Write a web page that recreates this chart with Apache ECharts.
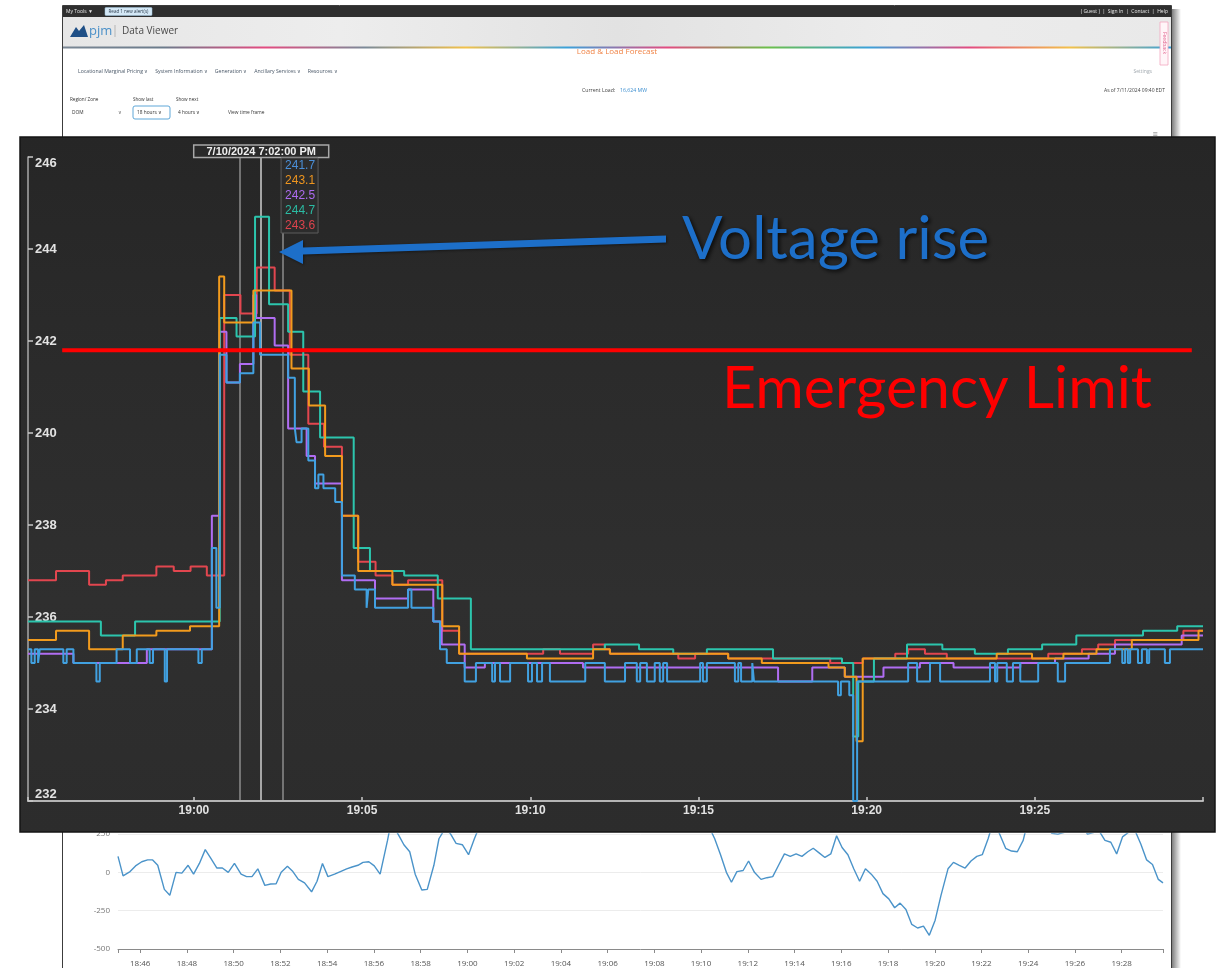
<!DOCTYPE html>
<html>
<head>
<meta charset="utf-8">
<title>Voltage rise – Emergency Limit</title>
<script src="https://cdn.jsdelivr.net/npm/echarts@6/dist/echarts.min.js"></script>
<style>
html,body{margin:0;padding:0;background:#ffffff;}
#chart{width:1225px;height:968px;}
</style>
</head>
<body>
<div id="chart"></div>
<script>
// ================= DATA =================
// Voltage step series (time of change, value held until next change)
const blueT = ['18:55:04','18:55:10','18:55:16','18:55:22','18:55:25','18:56:07','18:56:13','18:56:25','18:57:06','18:57:12',
'18:57:42','18:58:06','18:58:18','18:58:41','18:58:47','18:59:08','18:59:12','19:00:08','19:00:14','19:00:32',
'19:00:40','19:00:46','19:00:58','19:01:22','19:01:46','19:01:58','19:02:48','19:03:00','19:03:03','19:03:12',
'19:03:24','19:03:36','19:03:42','19:03:51','19:04:12','19:04:24','19:04:47','19:05:08','19:05:11','19:05:23',
'19:06:22','19:06:28','19:07:07','19:07:19','19:07:31','19:08:03','19:08:23','19:08:52','19:08:57','19:09:06',
'19:09:24','19:09:56','19:10:03','19:10:12','19:10:21','19:10:35','19:11:38','19:12:13','19:12:49','19:13:10',
'19:13:16','19:13:28','19:13:42','19:13:51','19:13:57','19:14:04','19:15:03','19:15:08','19:15:15','19:16:05',
'19:16:11','19:16:16','19:16:36','19:16:39','19:19:09','19:19:14','19:19:29','19:19:36','19:19:43','19:21:14',
'19:21:30','19:21:53','19:22:11','19:23:40','19:23:49','19:23:53','19:24:10','19:24:21','19:24:34','19:25:06',
'19:25:41','19:25:54','19:27:14','19:27:36','19:27:41','19:27:46','19:27:50','19:28:04','19:28:11','19:28:20',
'19:28:24','19:28:52','19:29:01','19:30:00'];
const blueV = [235.3,235.0,235.3,235.0,235.3,235.0,235.3,235.0,234.6,235.0,
235.3,235.0,235.3,235.0,235.3,234.6,235.3,235.0,235.3,237.5,
236.2,241.7,241.1,241.3,242.4,241.7,241.2,240.1,239.8,240.1,
239.4,238.8,239.1,238.8,238.5,236.9,236.6,236.2,236.6,236.2,
236.6,236.2,235.9,235.3,235.0,234.6,235.0,234.6,235.0,234.6,
235.0,234.6,235.0,234.6,235.0,234.6,235.0,234.6,235.0,234.6,
235.0,234.6,235.0,234.6,235.0,234.6,235.0,234.6,235.0,234.6,
235.0,234.6,235.0,234.6,234.3,234.6,234.3,232.0,234.6,235.0,
234.6,235.0,234.6,235.0,234.6,235.0,234.6,235.0,234.6,235.0,
234.6,235.0,235.3,235.0,235.3,235.0,235.3,235.0,235.3,235.0,
235.3,235.0,235.3,235.3];

const orangeT = ['18:55:04','18:55:54','18:56:53','18:57:53','18:58:53','18:59:53','19:00:45','19:00:54','19:01:46','19:02:54',
'19:03:25','19:03:54','19:04:24','19:04:53','19:05:54','19:07:23','19:07:53','19:09:54','19:11:52','19:12:22',
'19:15:53','19:16:53','19:18:52','19:19:21','19:19:42','19:19:53','19:23:52','19:24:55','19:25:51','19:26:50',
'19:27:53','19:29:52','19:30:00'];
const orangeV = [235.5,235.7,235.3,235.6,235.7,235.8,243.4,242.4,243.1,241.4,
240.6,239.5,238.2,237.0,236.7,235.8,235.2,235.1,235.3,235.2,
235.1,235.0,234.9,234.7,233.3,235.1,235.2,235.1,235.2,235.3,
235.5,235.7,235.7];

const purpleT = ['18:55:04','18:56:25','18:58:36','19:00:32','19:00:46','19:00:58','19:01:22','19:01:46','19:01:51','19:02:24',
'19:02:48','19:03:21','19:03:36','19:04:24','19:05:23','19:06:22','19:07:07','19:07:22','19:08:03','19:08:39',
'19:11:34','19:17:22','19:18:23','19:19:21','19:20:30','19:21:35','19:22:35','19:24:34','19:25:36','19:26:36',
'19:27:23','19:29:22','19:30:00'];
const purpleV = [235.2,235.0,235.3,238.2,242.2,241.1,241.5,243.0,242.5,241.9,
240.1,239.5,238.9,236.8,236.4,236.6,235.9,235.4,234.9,235.0,
234.9,234.6,234.9,234.7,234.9,235.0,234.9,235.0,235.1,235.2,
235.4,235.6,235.6];

const tealT = ['18:55:04','18:57:14','18:58:15','19:00:46','19:01:16','19:01:49','19:02:14','19:02:48','19:03:15','19:03:45',
'19:04:45','19:05:14','19:06:15','19:07:15','19:08:14','19:12:13','19:13:14','19:14:15','19:15:15','19:17:13',
'19:19:16','19:19:36','19:19:45','19:20:13','19:21:12','19:22:15','19:23:13','19:24:12','19:25:13','19:26:14',
'19:28:13','19:29:14','19:30:00'];
const tealV = [235.9,235.6,235.9,242.5,242.1,244.7,242.8,242.2,240.9,239.9,
237.5,237.0,236.9,236.4,235.3,235.4,235.3,235.2,235.3,235.1,
235.0,233.4,234.6,235.1,235.4,235.3,235.2,235.3,235.4,235.6,
235.7,235.8,235.8];

const redT = ['18:55:04','18:55:54','18:56:53','18:57:23','18:57:53','18:58:53','18:59:24','18:59:54','19:00:23','19:00:54',
'19:01:23','19:01:52','19:02:24','19:02:51','19:03:24','19:03:52','19:04:24','19:04:53','19:05:24','19:05:54',
'19:06:22','19:07:23','19:07:53','19:10:23','19:10:53','19:11:52','19:12:13','19:12:22','19:14:24','19:14:54',
'19:15:53','19:18:55','19:19:53','19:20:51','19:21:14','19:21:44','19:22:23','19:25:24','19:26:24','19:26:53',
'19:27:23','19:29:25','19:30:00'];
const redV = [236.8,237.0,236.7,236.8,236.9,237.1,237.0,237.1,236.9,243.0,
242.6,243.6,243.1,241.7,240.2,239.7,238.2,237.2,236.9,236.7,
236.8,235.7,235.2,235.3,235.2,235.4,235.3,235.2,235.1,235.2,
235.1,235.0,235.1,235.2,235.3,235.2,235.1,235.2,235.3,235.4,
235.5,235.7,235.7];

// cursor / tooltip
const cursorTimes = ['19:01:22','19:02:00','19:02:39'];
const cursorLabel = '7/10/2024 7:02:00 PM';
// emergency limit annotation line
const limitValue = 241.8;
const limitSpan = ['18:56:05','19:29:40'];

// axis ranges / tick labels
const topXRange = ['18:55:04','19:30:00'];
const topXTicks = ['19:00','19:05','19:10','19:15','19:20','19:25'];
const topYTicks = [232,234,236,238,240,242,244,246];

// background page chart (light)
const bottomT = ['18:45:03','18:45:16','18:45:34','18:45:48','18:46:04','18:46:19','18:46:32','18:46:45','18:47:02','18:47:16',
'18:47:32','18:47:47','18:48:03','18:48:17','18:48:32','18:48:47','18:49:01','18:49:17','18:49:31','18:49:46',
'18:50:02','18:50:19','18:50:33','18:50:47','18:51:02','18:51:20','18:51:35','18:51:49','18:52:02','18:52:18',
'18:52:32','18:52:46','18:53:02','18:53:20','18:53:34','18:53:48','18:54:02','18:54:19','18:54:34','18:54:50',
'18:55:04','18:55:19','18:55:32','18:55:47','18:56:01','18:56:16','18:56:35','18:56:42','18:56:53','18:57:06',
'18:57:17','18:57:32','18:57:46','18:58:03','18:58:17','18:58:34','18:58:47','18:59:02','18:59:16','18:59:31',
'18:59:47','19:00:03','19:00:18','19:00:31','19:01:30','19:03:00','19:05:00','19:07:00','19:08:30','19:09:16',
'19:09:31','19:09:51','19:10:20','19:10:35','19:10:50','19:11:05','19:11:18','19:11:32','19:11:48','19:12:02',
'19:12:17','19:12:34','19:12:49','19:13:04','19:13:19','19:13:34','19:13:49','19:14:04','19:14:19','19:14:34',
'19:14:48','19:15:03','19:15:18','19:15:33','19:15:48','19:16:02','19:16:17','19:16:32','19:16:47','19:17:02',
'19:17:17','19:17:32','19:17:47','19:18:02','19:18:17','19:18:31','19:18:46','19:19:01','19:19:16','19:19:31',
'19:19:46','19:20:01','19:20:16','19:20:34','19:20:48','19:21:03','19:21:18','19:21:33','19:21:48','19:22:02',
'19:22:17','19:22:28','19:22:42','19:23:02','19:23:17','19:23:32','19:23:47','19:23:57','19:24:19','19:24:43',
'19:25:01','19:25:16','19:25:31','19:25:46','19:26:01','19:26:16','19:26:32','19:26:47','19:27:02','19:27:17',
'19:27:32','19:27:47','19:28:02','19:28:20','19:28:34','19:28:49','19:29:04','19:29:19','19:29:34','19:29:46'];
const bottomV = [104,-23,5,42,69,81,81,46,-111,-150,
0,-5,46,-12,58,148,92,28,28,0,
58,-12,-28,-28,23,-85,-76,-74,0,39,
5,-46,-69,-127,-58,58,-28,-12,5,23,
35,46,65,69,42,-12,208,300,289,231,
180,134,-12,-115,-111,46,219,282,254,189,
180,115,219,300,420,520,480,400,330,277,
305,296,300,219,115,0,-65,5,12,74,
0,-46,-35,-28,46,120,104,120,104,134,
157,127,97,120,238,162,115,23,-58,23,
-12,-58,-139,-173,-231,-201,-243,-340,-363,-351,
-411,-312,-150,23,65,46,28,74,104,115,
219,312,277,157,139,134,208,312,340,300,
254,249,259,273,270,312,249,259,270,208,
196,120,231,266,273,185,81,51,-46,-69];
const bottomXRange = ['18:45:03','19:29:46'];
const bottomXTicks = ['18:46','18:48','18:50','18:52','18:54','18:56','18:58','19:00','19:02','19:04','19:06',
'19:08','19:10','19:12','19:14','19:16','19:18','19:20','19:22','19:24','19:26','19:28'];

// ================= HELPERS =================
function toMin(s){const p=s.split(':').map(Number);return (p[0]-18)*60+p[1]+(p[2]||0)/60;}
function pairs(T,V){return T.map((t,i)=>[toMin(t),V[i]]);}
function valueAt(T,V,t){let v=V[0];for(let i=0;i<T.length;i++){if(toMin(T[i])<=t+1e-9)v=V[i];}return v;}
function tickLabel(list,v){for(const l of list){if(Math.abs(toMin(l)-v)<1e-6)return l;}return '';}

const FONT = 'Arial, "Liberation Sans", sans-serif';
const colors = {blue:'#41a1e1', orange:'#f29b1d', purple:'#b06df2', teal:'#2cc5ad', red:'#e2464f'};
const tipColors = [ '#4a8fd8', '#ee951f', '#ad6cf0', '#2bbba3', '#dc434c'];

const chart = echarts.init(document.getElementById('chart'), null, {renderer:'canvas', width:1225, height:968});

function stepLine(name,T,V,color){
  return {name, type:'line', xAxisIndex:0, yAxisIndex:0, step:'end', data:pairs(T,V), symbol:'none',
    z:6, silent:true, lineStyle:{color, width:2}, itemStyle:{color}, emphasis:{disabled:true}};
}

const option = {
  animation:false,
  backgroundColor:'#ffffff',
  grid:[
    {left:28, right:22, top:157, bottom:167, show:false},
    {left:118, right:62, top:834, bottom:18, show:false}
  ],
  xAxis:[
    {gridIndex:0, type:'value', z:5, min:toMin(topXRange[0]), max:toMin(topXRange[1]), minInterval:5, maxInterval:5,
      axisLine:{show:true, onZero:false, lineStyle:{color:'#b4b4b4', width:2}},
      axisTick:{show:true, inside:true, length:4, lineStyle:{color:'#c8c8c8', width:1.5}},
      axisLabel:{color:'#e2e2e2', fontFamily:FONT, fontWeight:'bold', fontSize:12, margin:4,
        formatter:v=>tickLabel(topXTicks,v)},
      splitLine:{show:false}},
    {gridIndex:1, type:'value', z:0, min:toMin(bottomXRange[0]), max:toMin(bottomXRange[1]), minInterval:2, maxInterval:2,
      axisLine:{show:true, onZero:false, lineStyle:{color:'#8a8a8a', width:1}},
      axisTick:{show:true, length:4, lineStyle:{color:'#8a8a8a'}},
      axisLabel:{color:'#555', fontFamily:'"Open Sans", sans-serif', fontSize:8, margin:11,
        formatter:v=>tickLabel(bottomXTicks,v)},
      splitLine:{show:false}}
  ],
  yAxis:[
    {gridIndex:0, type:'value', z:5, min:topYTicks[0], max:topYTicks[topYTicks.length-1], interval:2,
      axisLine:{show:true, lineStyle:{color:'#a8a8a8', width:1.5}},
      axisTick:{show:true, inside:true, length:5, lineStyle:{color:'#c8c8c8', width:1.5}},
      axisLabel:{inside:true, margin:7, color:'#e2e2e2', fontFamily:FONT, fontWeight:'bold', fontSize:13,
        verticalAlignMaxLabel:'top', verticalAlignMinLabel:'bottom'},
      splitLine:{show:false}},
    {gridIndex:1, type:'value', z:0, min:-500, max:250, interval:250,
      axisLine:{show:false}, axisTick:{show:false},
      axisLabel:{color:'#777', fontFamily:'"Open Sans", sans-serif', fontSize:8, margin:8},
      splitLine:{show:true, lineStyle:{color:'#ececec', width:1}}}
  ],
  series:[
    {name:'Bottom', type:'line', xAxisIndex:1, yAxisIndex:1, data:pairs(bottomT,bottomV), symbol:'none', z:1,
      silent:true, clip:true, lineStyle:{color:'#4a93c9', width:1.4}, itemStyle:{color:'#4a93c9'}},
    Object.assign(stepLine('Red',redT,redV,colors.red), {
      markLine:{silent:true, symbol:['none','none'], z:5, animation:false, label:{show:false},
        data:cursorTimes.map((t,i)=>({xAxis:toMin(t),
          lineStyle:{color:i===1?'#cfcfcf':'#8c8c8c', width:1.5, type:'solid'}}))}
    }),
    stepLine('Purple',purpleT,purpleV,colors.purple),
    stepLine('Teal',tealT,tealV,colors.teal),
    stepLine('Orange',orangeT,orangeV,colors.orange),
    stepLine('Blue',blueT,blueV,colors.blue),
    {name:'Emergency Limit', type:'line', xAxisIndex:0, yAxisIndex:0, silent:true, symbol:'none', z:10, clip:false,
      data:limitSpan.map(t=>[toMin(t),limitValue]), lineStyle:{color:'#ff0000', width:4}}
  ]
};
chart.setOption(option);

// ================= GRAPHICS (page backdrop, panel, tooltip, annotations) =================
const cx = chart.convertToPixel({xAxisIndex:0}, toMin(cursorTimes[1]));
const cxR = chart.convertToPixel({xAxisIndex:0}, toMin(cursorTimes[2]));
const tipValues = [[blueT,blueV],[orangeT,orangeV],[purpleT,purpleV],[tealT,tealV],[redT,redV]]
  .map(([T,V])=>valueAt(T,V,toMin(cursorTimes[1])).toFixed(1));

function LG(x1,y1,x2,y2,stops){
  return new echarts.graphic.LinearGradient(x1,y1,x2,y2,stops.map((c,i)=>({offset:i/(stops.length-1),color:c})));
}
function txt(x,y,text,o){
  o=o||{};
  const al=o.align||'left', va=o.va||'middle';
  return Object.assign({type:'text', z:(o.z!==undefined?o.z:-5), silent:true,
    style:Object.assign({x, y, text, font:o.font||'6px "Open Sans"', fill:o.fill||'#444',
      textAlign:al, align:al, textVerticalAlign:va, verticalAlign:va}, o.style||{})}, o.el||{});
}

const g = [];
// page shadow + page
g.push({type:'rect', z:-10, silent:true, shape:{x:1172,y:9,width:9,height:960}, style:{fill:LG(0,0,1,0,['rgba(0,0,0,0.5)','rgba(0,0,0,0)'])}});
g.push({type:'rect', z:-9, silent:true, shape:{x:62.5,y:5.5,width:1109,height:975}, style:{fill:'#ffffff', stroke:'#3c3c3c', lineWidth:1}});
// top dark bar
g.push({type:'rect', z:-8, silent:true, shape:{x:63,y:6,width:1108,height:11}, style:{fill:'#2f2f2f'}});
g.push(txt(66,11.5,'My Tools ▼',{font:'5px "Open Sans"', fill:'#e8e8e8'}));
g.push({type:'rect', z:-7, silent:true, shape:{x:105,y:7.5,width:47,height:8, r:1}, style:{fill:'#d4e8f6', stroke:'#9fc4de', lineWidth:0.5}});
g.push(txt(128.5,11.5,'Read 1 new alert(s)',{font:'4.5px "Open Sans"', fill:'#2b3b4b', align:'center', z:-6}));
g.push(txt(1168,11.5,'( Guest )  |  Sign In  |  Contact  |  Help',{font:'5px "Open Sans"', fill:'#e8e8e8', align:'right'}));
// header
g.push({type:'rect', z:-8, silent:true, shape:{x:63,y:17,width:1108,height:30}, style:{fill:LG(0,0,1,0,['#e6e6e6','#ededed','#e2e2e2','#ececec','#e9e9e9'])}});
g.push({type:'polygon', z:-7, silent:true, shape:{points:[[70,37],[76,27],[79,31],[84,25],[88,37]]}, style:{fill:'#1f4f86'}});
g.push(txt(89,31,'pjm',{font:'13px "Open Sans"', fill:'#4a90c8'}));
g.push({type:'line', z:-7, silent:true, shape:{x1:115,y1:25,x2:115,y2:37}, style:{stroke:'#aaa', lineWidth:0.8}});
g.push(txt(122,31,'Data Viewer',{font:'10px "Open Sans"', fill:'#4a4a4a'}));
g.push({type:'rect', z:-7, silent:true, shape:{x:63,y:46.5,width:1108,height:2},
  style:{fill:LG(0,0,1,0,['#7a8794','#6b7b8b','#e34b80','#7b8a98','#f2c14a','#3ba1d9','#e34b80','#6cbf4a','#3ba1d9','#e34b80','#f2c14a','#3ba1d9'])}});
// feedback tab
g.push({type:'rect', z:-7, silent:true, shape:{x:1160,y:22,width:8,height:43}, style:{fill:'#fff5f8', stroke:'#f2a6bf', lineWidth:0.8}});
g.push(txt(0,0,'Feedback',{font:'5px "Open Sans"', fill:'#e36a93', align:'center', z:-6, el:{x:1164, y:43, rotation:-Math.PI/2}}));
// page content
g.push(txt(617,52,'Load & Load Forecast',{font:'8px "Open Sans"', fill:'#f08447', align:'center'}));
g.push(txt(78,71.5,'Locational Marginal Pricing ∨     System Information ∨     Generation ∨     Ancillary Services ∨     Resources ∨',{font:'5.2px "Open Sans"', fill:'#4a5868'}));
g.push(txt(1152,71.5,'Settings',{font:'5px "Open Sans"', fill:'#a0a8ae', align:'right'}));
g.push(txt(582,91,'Current Load:',{font:'5.2px "Open Sans"', fill:'#444'}));
g.push(txt(620,91,'16,624 MW',{font:'5.2px "Open Sans"', fill:'#3b8ed0'}));
g.push(txt(1165,91,'As of 7/11/2024 09:40 EDT',{font:'5px "Open Sans"', fill:'#444', align:'right'}));
g.push(txt(70,100,'Region/ Zone',{font:'4.6px "Open Sans"', fill:'#333'}));
g.push(txt(133,100,'Show last',{font:'4.6px "Open Sans"', fill:'#333'}));
g.push(txt(176,100,'Show next',{font:'4.6px "Open Sans"', fill:'#333'}));
g.push(txt(72,112.5,'DOM',{font:'4.8px "Open Sans"', fill:'#333'}));
g.push(txt(118,112.5,'∨',{font:'5px "Open Sans"', fill:'#666'}));
g.push({type:'rect', z:-7, silent:true, shape:{x:133,y:106,width:37,height:13,r:2}, style:{fill:'#fff', stroke:'#5fa7d8', lineWidth:1}});
g.push(txt(137,112.5,'18 hours ∨',{font:'4.8px "Open Sans"', fill:'#333', z:-6}));
g.push(txt(178,112.5,'4 hours ∨',{font:'4.8px "Open Sans"', fill:'#333'}));
g.push(txt(228,112.5,'View time frame',{font:'4.8px "Open Sans"', fill:'#333'}));
g.push(txt(1155,134,'≡',{font:'9px "Open Sans"', fill:'#777', align:'center'}));

// dark chart panel
g.push({type:'rect', z:3, silent:true, shape:{x:20,y:137,width:1195,height:695},
  style:{fill:LG(0,0,0,1,['#262626','#2b2b2b','#2f2f2f','#2c2c2c']), stroke:'#151515', lineWidth:1.5}});

// cursor time box
g.push({type:'rect', z:7, silent:true, shape:{x:cx-67.5,y:145,width:135,height:12.5}, style:{fill:'#2a2a2a', stroke:'#a8a8a8', lineWidth:1.5}});
g.push(txt(cx,151.5,cursorLabel,{font:'bold 11px '+FONT, fill:'#f0f0f0', align:'center', z:8}));
// cursor value box
g.push({type:'rect', z:7, silent:true, shape:{x:cxR-2,y:158,width:37,height:75}, style:{fill:'#2c2c2c', stroke:'#5c5c5c', lineWidth:1}});
tipValues.forEach((v,i)=>g.push(txt(cxR+2,166+i*14.8,v,{font:'12px '+FONT, fill:tipColors[i], z:8})));

// annotations
g.push({type:'polygon', z:11, silent:true,
  shape:{points:[[666,235.5],[303,247.5],[303,240],[279,252],[303,264],[303,254.5],[666,242.5]]},
  style:{fill:'#1d6fc9', shadowColor:'rgba(0,0,0,0.45)', shadowBlur:3, shadowOffsetX:1, shadowOffsetY:1}});
g.push(txt(682,240,'Voltage rise',{font:'60px Lato', fill:'#1d6fc9', z:11,
  style:{textShadowColor:'rgba(0,0,0,0.75)', textShadowBlur:4, textShadowOffsetX:2, textShadowOffsetY:2}}));
g.push(txt(722,389,'Emergency Limit',{font:'59px Lato', fill:'#ff0000', z:11}));

chart.setOption({graphic:{elements:g}});
</script>
</body>
</html>
